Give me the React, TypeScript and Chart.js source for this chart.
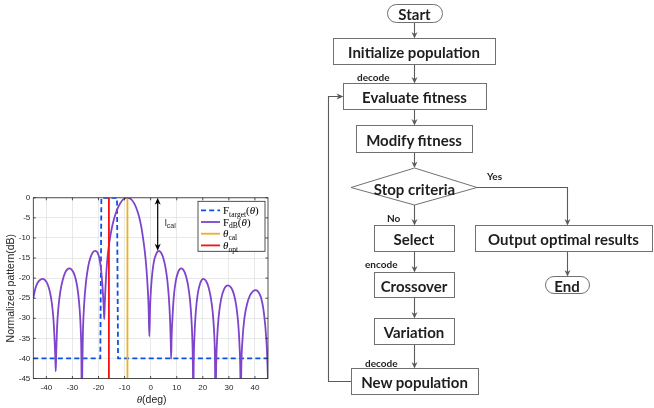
import React, { useEffect, useRef } from "react";
import { Chart, registerables } from "chart.js";

Chart.register(...registerables);

// ---------------- chart data ----------------
const patternTheta = [
  -45, -44.2, -43.3, -42.3, -41.4, -40.5, -39.6, -38.7, -37.9, -37.3, -36.9, -36.6, -36.4,
  -36.2, -35.9, -35.4, -34.6, -33.7, -32.7, -31.9, -31.2, -30.4, -29.5, -28.6, -27.8, -27.2, -26.8, -26.55, -26.4,
  -26.2, -25.95, -25.5, -24.8, -24.0, -23.1, -22.2, -21.3, -20.5, -19.8, -19.2, -18.7, -18.3, -18.0, -17.8,
  -17.6, -17.3, -16.8, -16.2, -15.4, -14.5, -13.5, -12.5, -11.5, -10.5, -9.6, -8.9, -8.1, -7.2, -6.2, -5.3, -4.4,
  -3.6, -2.9, -2.2, -1.6, -1.1, -0.8, -0.5,
  -0.2, 0.2, 0.7, 1.3, 2.1, 3.1, 4.0, 4.9, 5.7, 6.4, 7.0, 7.45, 7.7, 7.85,
  8.05, 8.4, 8.9, 9.6, 10.6, 11.7, 12.7, 13.6, 14.4, 15.1, 15.6, 16.0, 16.2, 16.35,
  16.5, 16.8, 17.3, 18.0, 19.0, 20.2, 21.3, 22.3, 23.1, 23.8, 24.3, 24.65, 24.9,
  25.1, 25.5, 26.1, 27.0, 28.2, 29.6, 30.9, 32.0, 32.9, 33.6, 34.1, 34.4, 34.55,
  34.75, 35.2, 36.0, 37.0, 38.1, 39.2, 40.3, 41.4, 42.4, 43.2, 43.9, 44.6, 45.0,
];
const patternDb = [
  -25.0, -22.6, -21.1, -20.4, -20.2, -20.5, -21.4, -23.2, -26.2, -30.0, -34.5, -39.0, -43.2,
  -38.5, -32.5, -27.5, -23.2, -20.4, -18.5, -17.8, -17.6, -17.8, -18.7, -20.6, -23.8, -28.0, -33.0, -40.0, -55,
  -42, -33, -26.5, -21, -17.3, -14.9, -13.6, -13.2, -13.5, -14.7, -16.9, -20.0, -23.8, -27.3, -30.2,
  -26.5, -22.0, -16.8, -12.8, -9.3, -6.4, -4.1, -2.4, -1.2, -0.4, -0.05, 0, -0.1, -0.55, -1.5, -2.9, -4.8,
  -7.2, -10.1, -13.6, -17.8, -22.8, -27.0, -34.5,
  -27.0, -22.0, -18.4, -15.7, -14.0, -13.2, -13.7, -15.1, -17.4, -20.6, -25.0, -30.5, -35.5, -40.1,
  -34.5, -29.5, -24.5, -20.8, -18.4, -17.6, -18.1, -19.6, -22.0, -25.5, -29.8, -35.5, -42, -55,
  -42, -34.5, -28.5, -24.2, -21.3, -20.2, -20.8, -22.5, -25.0, -28.5, -33.0, -39.5, -55,
  -43, -35, -29.5, -25.3, -22.7, -21.8, -22.4, -24.2, -27.2, -31.5, -37.0, -44, -55,
  -43, -35.5, -29.8, -26.4, -24.3, -23.3, -23.0, -23.5, -25.0, -27.6, -31.5, -38.0, -45.5,
];
const targetTheta = [-45, -19.3, -18.9, -12.9, -12.5, 45];
const targetDb = [-40, -40, 0, 0, -40, -40];
const thetaCal = -8.9;
const thetaOpt = -16;
const verticalSpanDb = [0, -45];
const calArrowTheta = 2.7;
const calArrowDb = [0, -13.2];
const xTicks = [-40, -30, -20, -10, 0, 10, 20, 30, 40];
const yTicks = [0, -5, -10, -15, -20, -25, -30, -35, -40, -45];
const yAxisTitle = "Normalized pattern(dB)";
const xAxisTitle = ["θ", "(deg)"];
const legendLabels = [
  ["F", "target", "(", "θ", ")"],
  ["F", "dB", "(", "θ", ")"],
  ["θ", "cal"],
  ["θ", "opt"],
];
const calLabel = ["l", "cal"];

// ---------------- flowchart content ----------------
const flowMain = ["Initialize population", "Evaluate fitness", "Modify fitness"];
const flowDecision = "Stop criteria";
const flowLoop = ["Select", "Crossover", "Variation", "New population"];
const flowOutput = "Output optimal results";
const flowTerminals = ["Start", "End"];
const flowNotes = ["decode", "Yes", "No", "encode", "decode"];

const BLUE = "#0a52e6";
const PURPLE = "#7e44cc";
const ORANGE = "#edb120";
const RED = "#ff1010";
const AXIS = "#262626";
const GRID = "#e3e3e3";

type Part = { t: string; it?: boolean; sub?: boolean };

function drawRich(ctx: CanvasRenderingContext2D, parts: Part[], x: number, y: number, size: number, subSize: number, family: string) {
  for (const p of parts) {
    const s = p.sub ? subSize : size;
    ctx.font = `${p.it ? "italic " : ""}${s}px ${family}`;
    ctx.fillText(p.t, x, y + (p.sub ? size * 0.25 : 0));
    x += ctx.measureText(p.t).width;
  }
}

function legendParts(lbl: string[]): Part[] {
  if (lbl.length === 5) {
    return [{ t: lbl[0] }, { t: lbl[1], sub: true }, { t: lbl[2] }, { t: lbl[3], it: true }, { t: lbl[4] }];
  }
  return [{ t: lbl[0], it: true }, { t: lbl[1], sub: true }];
}

const decorPlugin = {
  id: "decor",
  afterDatasetsDraw(chart: any) {
    const ctx: CanvasRenderingContext2D = chart.ctx;
    const a = chart.chartArea;
    const xs = chart.scales.x;
    const ys = chart.scales.y;
    ctx.save();
    // inward tick marks
    ctx.strokeStyle = AXIS;
    ctx.lineWidth = 0.8;
    ctx.beginPath();
    for (const v of xTicks) {
      const px = xs.getPixelForValue(v);
      ctx.moveTo(px, a.bottom);
      ctx.lineTo(px, a.bottom - 2.5);
      ctx.moveTo(px, a.top);
      ctx.lineTo(px, a.top + 2.5);
    }
    for (const v of yTicks) {
      const py = ys.getPixelForValue(v);
      ctx.moveTo(a.left, py);
      ctx.lineTo(a.left + 2.5, py);
      ctx.moveTo(a.right, py);
      ctx.lineTo(a.right - 2.5, py);
    }
    ctx.stroke();
    // box
    ctx.strokeRect(a.left, a.top, a.right - a.left, a.bottom - a.top);

    // l_cal double arrow
    const ax = xs.getPixelForValue(calArrowTheta);
    const y1 = ys.getPixelForValue(calArrowDb[0]);
    const y2 = ys.getPixelForValue(calArrowDb[1]);
    ctx.strokeStyle = "#000";
    ctx.fillStyle = "#000";
    ctx.lineWidth = 1.2;
    ctx.beginPath();
    ctx.moveTo(ax, y1 + 4);
    ctx.lineTo(ax, y2 - 4);
    ctx.stroke();
    ctx.beginPath();
    ctx.moveTo(ax, y1);
    ctx.lineTo(ax - 3, y1 + 7);
    ctx.lineTo(ax, y1 + 5);
    ctx.lineTo(ax + 3, y1 + 7);
    ctx.closePath();
    ctx.fill();
    ctx.beginPath();
    ctx.moveTo(ax, y2);
    ctx.lineTo(ax - 3, y2 - 7);
    ctx.lineTo(ax, y2 - 5);
    ctx.lineTo(ax + 3, y2 - 7);
    ctx.closePath();
    ctx.fill();
    ctx.fillStyle = AXIS;
    ctx.textBaseline = "alphabetic";
    ctx.textAlign = "left";
    drawRich(ctx, [{ t: calLabel[0] }, { t: calLabel[1], sub: true }], ax + 7, y1 + 28, 9.5, 7, '"Liberation Sans"');

    // legend
    const lw = 67;
    const lh = 50;
    const lx = a.right - 3 - lw;
    const ly = a.top + 3.5;
    ctx.fillStyle = "#fff";
    ctx.fillRect(lx, ly, lw, lh);
    ctx.strokeStyle = AXIS;
    ctx.lineWidth = 0.8;
    ctx.strokeRect(lx, ly, lw, lh);
    const ds = chart.data.datasets;
    for (let i = 0; i < ds.length; i++) {
      const ry = ly + 9 + i * 11.7;
      ctx.save();
      ctx.strokeStyle = ds[i].borderColor;
      ctx.lineWidth = 1.8;
      ctx.setLineDash(ds[i].borderDash || []);
      ctx.beginPath();
      ctx.moveTo(lx + 3, ry);
      ctx.lineTo(lx + 22, ry);
      ctx.stroke();
      ctx.restore();
      ctx.fillStyle = "#000";
      drawRich(ctx, legendParts(legendLabels[i]), lx + 25, ry + 3.5, 11, 7.5, '"Liberation Serif"');
    }
    // x title
    ctx.fillStyle = AXIS;
    ctx.font = 'italic 11px "Liberation Serif"';
    const w1 = ctx.measureText(xAxisTitle[0]).width;
    ctx.font = '10.5px "Liberation Sans"';
    const w2 = ctx.measureText(xAxisTitle[1]).width;
    const cx = (a.left + a.right) / 2 + 1;
    const by = a.bottom + 24;
    drawRich(ctx, [{ t: xAxisTitle[0], it: true }], cx - (w1 + w2) / 2, by, 11, 8, '"Liberation Serif"');
    ctx.font = '10.5px "Liberation Sans"';
    ctx.fillText(xAxisTitle[1], cx - (w1 + w2) / 2 + w1, by);
    ctx.restore();
  },
};

function ChartPanel() {
  const ref = useRef<HTMLCanvasElement | null>(null);
  useEffect(() => {
    if (!ref.current) return;
    Chart.defaults.font.family = '"Liberation Sans", Arial, sans-serif';
    const chart = new Chart(ref.current, {
      type: "line",
      data: {
        datasets: [
          {
            label: "F_target",
            data: targetTheta.map((x, i) => ({ x, y: targetDb[i] })),
            borderColor: BLUE,
            borderWidth: 1.8,
            borderDash: [5, 3.2],
            pointRadius: 0,
            tension: 0,
            order: 4,
          },
          {
            label: "F_dB",
            data: patternTheta.map((x, i) => ({ x, y: patternDb[i] })),
            borderColor: PURPLE,
            borderWidth: 1.8,
            pointRadius: 0,
            cubicInterpolationMode: "monotone",
            order: 3,
          },
          {
            label: "theta_cal",
            data: verticalSpanDb.map((y) => ({ x: thetaCal, y })),
            borderColor: ORANGE,
            borderWidth: 1.8,
            pointRadius: 0,
            order: 2,
          },
          {
            label: "theta_opt",
            data: verticalSpanDb.map((y) => ({ x: thetaOpt, y })),
            borderColor: RED,
            borderWidth: 1.8,
            pointRadius: 0,
            order: 1,
          },
        ] as any,
      },
      options: {
        animation: false,
        responsive: false,
        events: [],
        layout: { padding: { left: 0, right: 7, top: 6.5, bottom: 0 } },
        plugins: { legend: { display: false }, tooltip: { enabled: false } },
        scales: {
          x: {
            type: "linear",
            min: -45,
            max: 45,
            afterBuildTicks: (s: any) => {
              s.ticks = xTicks.map((v) => ({ value: v }));
            },
            afterFit: (s: any) => {
              s.height = 29.5;
            },
            grid: { color: GRID, lineWidth: 0.8, drawTicks: false },
            border: { display: false },
            ticks: {
              padding: 4,
              color: AXIS,
              font: { size: 8 },
              maxRotation: 0,
              autoSkip: false,
              callback: (v: any) => String(v),
            },
          },
          y: {
            type: "linear",
            min: -45,
            max: 0,
            afterBuildTicks: (s: any) => {
              s.ticks = yTicks.map((v) => ({ value: v }));
            },
            afterFit: (s: any) => {
              s.width = 33.3;
            },
            grid: { color: GRID, lineWidth: 0.8, drawTicks: false },
            border: { display: false },
            ticks: {
              padding: 3,
              color: AXIS,
              font: { size: 8 },
              autoSkip: false,
              callback: (v: any) => String(v),
            },
            title: {
              display: true,
              text: yAxisTitle,
              color: AXIS,
              font: { size: 10.5 },
              padding: { top: 5, bottom: 0 },
            },
          },
        },
      } as any,
      plugins: [decorPlugin],
    });
    return () => chart.destroy();
  }, []);
  return (
    <canvas
      ref={ref}
      width={275}
      height={218}
      style={{ position: "absolute", left: 0, top: 190, width: 275, height: 218 }}
    />
  );
}

const LINE = "#5b5b5b";
const BOX = "#707070";

function VArrow({ x, y1, y2 }: { x: number; y1: number; y2: number }) {
  return (
    <g>
      <line x1={x} y1={y1} x2={x} y2={y2 - 4} stroke={LINE} strokeWidth={1.1} />
      <polygon points={`${x - 3},${y2 - 6.5} ${x},${y2 - 4.5} ${x + 3},${y2 - 6.5} ${x},${y2}`} fill={LINE} />
    </g>
  );
}

function BoxNode({ x, y, w, h, label }: { x: number; y: number; w: number; h: number; label: string }) {
  return (
    <g>
      <rect x={x + 0.5} y={y + 0.5} width={w} height={h} fill="#fff" stroke={BOX} strokeWidth={1} />
      <text x={x + w / 2} y={y + h / 2 + 1} textAnchor="middle" dominantBaseline="central" fontSize={15} fontWeight={700} fill="#1e1e1e">
        {label}
      </text>
    </g>
  );
}

function Pill({ x, y, w, h, label }: { x: number; y: number; w: number; h: number; label: string }) {
  return (
    <g>
      <rect x={x + 0.5} y={y + 0.5} width={w} height={h} rx={h / 2} ry={h / 2} fill="#fff" stroke={BOX} strokeWidth={1} />
      <text x={x + w / 2} y={y + h / 2 + 1} textAnchor="middle" dominantBaseline="central" fontSize={15} fontWeight={700} fill="#1e1e1e">
        {label}
      </text>
    </g>
  );
}

function Note({ x, y, label }: { x: number; y: number; label: string }) {
  return (
    <text x={x} y={y} dominantBaseline="central" fontSize={10} fontWeight={700} fill="#1e1e1e">
      {label}
    </text>
  );
}

function Flowchart() {
  const cx = 414.5;
  const main = [
    { x: 333, y: 38, w: 162, h: 26 },
    { x: 343, y: 83, w: 143, h: 26 },
    { x: 356, y: 125, w: 116, h: 27 },
  ];
  const loop = [
    { x: 374, y: 225, w: 80, h: 26 },
    { x: 374, y: 272, w: 80, h: 25 },
    { x: 374, y: 318, w: 80, h: 26 },
    { x: 351, y: 368, w: 127, h: 26 },
  ];
  const out = { x: 475, y: 225, w: 177, h: 26 };
  const start = { x: 387, y: 4, w: 55, h: 18 };
  const end = { x: 545, y: 276, w: 44, h: 17 };
  const dia = { l: 351, r: 477, t: 168, b: 205, cy: 187 };
  const ox = 567.5;
  const loopX = 328.5;
  const evalMid = main[1].y + 13.5;
  const newMid = loop[3].y + 13.5;
  return (
    <svg
      width={654}
      height={408}
      viewBox="0 0 654 408"
      style={{ position: "absolute", left: 0, top: 0, fontFamily: "Lato, 'Open Sans', sans-serif" }}
    >
      <VArrow x={cx} y1={start.y + start.h + 0.5} y2={main[0].y + 0.5} />
      <VArrow x={cx} y1={main[0].y + main[0].h + 0.5} y2={main[1].y + 0.5} />
      <VArrow x={cx} y1={main[1].y + main[1].h + 0.5} y2={main[2].y + 0.5} />
      <VArrow x={cx} y1={main[2].y + main[2].h + 0.5} y2={dia.t} />
      <VArrow x={cx} y1={dia.b} y2={loop[0].y + 0.5} />
      <VArrow x={cx} y1={loop[0].y + loop[0].h + 0.5} y2={loop[1].y + 0.5} />
      <VArrow x={cx} y1={loop[1].y + loop[1].h + 0.5} y2={loop[2].y + 0.5} />
      <VArrow x={cx} y1={loop[2].y + loop[2].h + 0.5} y2={loop[3].y + 0.5} />
      <polyline points={`${dia.r},${dia.cy + 0.5} ${ox},${dia.cy + 0.5} ${ox},${out.y - 4}`} fill="none" stroke={LINE} strokeWidth={1.1} />
      <VArrow x={ox} y1={out.y - 5} y2={out.y + 0.5} />
      <VArrow x={ox} y1={out.y + out.h + 0.5} y2={end.y + 0.5} />
      <polyline
        points={`${loop[3].x + 0.5},${newMid} ${loopX},${newMid} ${loopX},${evalMid} ${main[1].x - 4},${evalMid}`}
        fill="none"
        stroke={LINE}
        strokeWidth={1.1}
      />
      <polygon
        points={`${main[1].x - 6.5},${evalMid - 3} ${main[1].x - 4.5},${evalMid} ${main[1].x - 6.5},${evalMid + 3} ${main[1].x + 0.5},${evalMid}`}
        fill={LINE}
      />
      <Pill {...start} label={flowTerminals[0]} />
      {main.map((b, i) => (
        <BoxNode key={i} {...b} label={flowMain[i]} />
      ))}
      <polygon
        points={`${dia.l},${dia.cy + 0.5} ${cx},${dia.t} ${dia.r},${dia.cy + 0.5} ${cx},${dia.b}`}
        fill="#fff"
        stroke={BOX}
        strokeWidth={1}
      />
      <text x={cx} y={dia.cy + 1.5} textAnchor="middle" dominantBaseline="central" fontSize={15} fontWeight={700} fill="#1e1e1e">
        {flowDecision}
      </text>
      {loop.map((b, i) => (
        <BoxNode key={i} {...b} label={flowLoop[i]} />
      ))}
      <BoxNode {...out} label={flowOutput} />
      <Pill {...end} label={flowTerminals[1]} />
      <Note x={357} y={77} label={flowNotes[0]} />
      <Note x={487} y={176} label={flowNotes[1]} />
      <Note x={387} y={218} label={flowNotes[2]} />
      <Note x={365} y={264} label={flowNotes[3]} />
      <Note x={365} y={363} label={flowNotes[4]} />
    </svg>
  );
}

export default function App() {
  return (
    <div
      style={{
        position: "fixed",
        left: 0,
        top: 0,
        width: 654,
        height: 408,
        background: "#fff",
        overflow: "hidden",
      }}
    >
      <ChartPanel />
      <Flowchart />
    </div>
  );
}
